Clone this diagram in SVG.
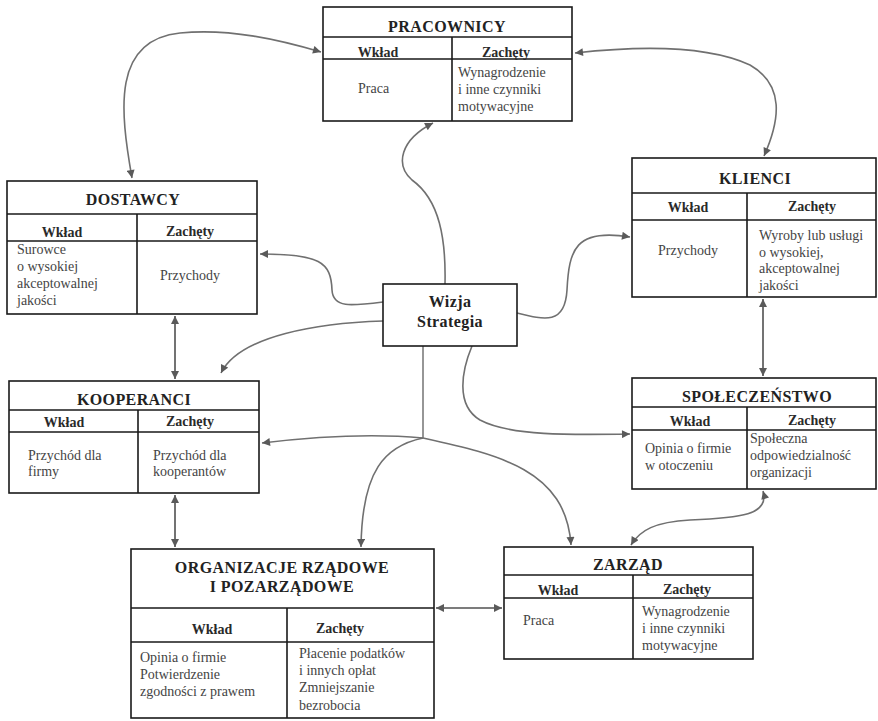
<svg xmlns="http://www.w3.org/2000/svg" width="878" height="721" viewBox="0 0 878 721">
  <style>
    .box { fill: #fff; stroke: #1a1a1a; stroke-width: 1.6; }
    .rule { stroke: #1a1a1a; stroke-width: 1.6; fill: none; }
    .title { font-family: "Liberation Serif", "Times New Roman", serif; font-weight: bold; font-size: 16px; fill: #222; text-anchor: middle; letter-spacing: 0.4px; }
    .head { font-family: "Liberation Serif", "Times New Roman", serif; font-weight: bold; font-size: 14px; fill: #2a2a2a; text-anchor: middle; }
    .body { font-family: "Liberation Serif", "Times New Roman", serif; font-size: 14px; fill: #444; }
    .mid { text-anchor: middle; }
    .wire { fill: none; stroke: #707070; stroke-width: 1.6; }
    .wire2 { fill: none; stroke: #505050; stroke-width: 1.6; }
  </style>
  <defs>
    <marker id="arrow" viewBox="0 0 10 10" refX="10" refY="5" markerWidth="9" markerHeight="8" markerUnits="userSpaceOnUse" orient="auto-start-reverse">
      <path d="M0,0 L10,5 L0,10 z" fill="#5a5a5a"/>
    </marker>
  </defs>

  <rect width="878" height="721" fill="#fff"/>

  <!-- connectors -->
  <g id="connectors">
    <path class="wire" d="M132 178 C120 110, 112 40, 180 33 C230 28, 280 40, 321 52" marker-start="url(#arrow)" marker-end="url(#arrow)"/>
    <path class="wire" d="M575 53 C620 48, 700 42, 750 65 C785 85, 780 120, 764 156" marker-start="url(#arrow)" marker-end="url(#arrow)"/>
    <path class="wire" d="M445 284 C446 240, 440 200, 412 180 C395 165, 400 140, 433 123" marker-end="url(#arrow)"/>
    <path class="wire" d="M383 302 C350 306, 333 308, 332 290 C331 262, 320 254, 260 254" marker-end="url(#arrow)"/>
    <path class="wire" d="M383 321 C320 323, 240 335, 221 373" marker-end="url(#arrow)"/>
    <path class="wire" d="M517 313 C545 320, 565 325, 567 290 C569 250, 575 228, 630 237" marker-end="url(#arrow)"/>
    <path class="wire2" d="M423 346 L423 438" style="stroke-width:1.2"/>
    <path class="wire" d="M423 438 C380 434, 320 436, 262 443" marker-end="url(#arrow)"/>
    <path class="wire" d="M423 438 C500 455, 566 470, 571 545" marker-end="url(#arrow)"/>
    <path class="wire" d="M423 438 C385 446, 362 470, 361 547" marker-end="url(#arrow)"/>
    <path class="wire" d="M472 346 C462 370, 455 405, 480 420 C510 436, 570 435, 630 434" marker-end="url(#arrow)"/>
    <path class="wire2" d="M175 316 L175 379" marker-start="url(#arrow)" marker-end="url(#arrow)"/>
    <path class="wire2" d="M175 495 L175 547" marker-start="url(#arrow)" marker-end="url(#arrow)"/>
    <path class="wire2" d="M763 299 L763 376" marker-start="url(#arrow)" marker-end="url(#arrow)"/>
    <path class="wire" d="M763 491 C770 515, 740 518, 690 520 C655 522, 640 530, 631 545" marker-start="url(#arrow)" marker-end="url(#arrow)"/>
    <path class="wire2" d="M436 608 L502 608" marker-start="url(#arrow)" marker-end="url(#arrow)"/>
  </g>

  <!-- PRACOWNICY -->
  <g id="pracownicy">
    <rect class="box" x="323" y="7" width="249" height="114"/>
    <path class="rule" d="M323 37 H572 M323 59 H572 M452 37 V121"/>
    <text class="title" x="447" y="32">PRACOWNICY</text>
    <text class="head" x="378" y="57">Wkład</text>
    <text class="head" x="506" y="57">Zachęty</text>
    <text class="body" x="358" y="93">Praca</text>
    <text class="body" x="458" y="77">Wynagrodzenie</text>
    <text class="body" x="458" y="94">i inne czynniki</text>
    <text class="body" x="458" y="111">motywacyjne</text>
  </g>

  <!-- DOSTAWCY -->
  <g id="dostawcy">
    <rect class="box" x="7" y="181" width="250" height="133"/>
    <path class="rule" d="M7 214 H257 M7 241 H257 M137 214 V314"/>
    <text class="title" x="133" y="205">DOSTAWCY</text>
    <text class="head" x="62" y="237">Wkład</text>
    <text class="head" x="190" y="236">Zachęty</text>
    <text class="body" x="17" y="254">Surowce</text>
    <text class="body" x="17" y="271">o wysokiej</text>
    <text class="body" x="17" y="288">akceptowalnej</text>
    <text class="body" x="17" y="305">jakości</text>
    <text class="body mid" x="190" y="280">Przychody</text>
  </g>

  <!-- KLIENCI -->
  <g id="klienci">
    <rect class="box" x="632" y="158" width="244" height="139"/>
    <path class="rule" d="M632 193 H876 M632 220 H876 M747 193 V297"/>
    <text class="title" x="755" y="184">KLIENCI</text>
    <text class="head" x="688" y="212">Wkład</text>
    <text class="head" x="812" y="211">Zachęty</text>
    <text class="body mid" x="688" y="255">Przychody</text>
    <text class="body" x="759" y="240">Wyroby lub usługi</text>
    <text class="body" x="759" y="257">o wysokiej,</text>
    <text class="body" x="759" y="273">akceptowalnej</text>
    <text class="body" x="759" y="290">jakości</text>
  </g>

  <!-- WIZJA / STRATEGIA -->
  <g id="wizja">
    <rect class="box" x="383" y="284" width="134" height="62"/>
    <text class="title" x="450" y="307">Wizja</text>
    <text class="title" x="450" y="327">Strategia</text>
  </g>

  <!-- KOOPERANCI -->
  <g id="kooperanci">
    <rect class="box" x="9" y="381" width="250" height="112"/>
    <path class="rule" d="M9 410 H259 M9 432 H259 M138 410 V493"/>
    <text class="title" x="134" y="405">KOOPERANCI</text>
    <text class="head" x="64" y="427">Wkład</text>
    <text class="head" x="190" y="426">Zachęty</text>
    <text class="body" x="28" y="460">Przychód dla</text>
    <text class="body" x="28" y="476">firmy</text>
    <text class="body" x="153" y="460">Przychód dla</text>
    <text class="body" x="153" y="476">kooperantów</text>
  </g>

  <!-- SPOŁECZEŃSTWO -->
  <g id="spoleczenstwo">
    <rect class="box" x="632" y="378" width="244" height="111"/>
    <path class="rule" d="M632 407 H876 M632 430 H876 M747 407 V489"/>
    <text class="title" x="757" y="402">SPOŁECZEŃSTWO</text>
    <text class="head" x="690" y="426">Wkład</text>
    <text class="head" x="812" y="425">Zachęty</text>
    <text class="body" x="645" y="453">Opinia o firmie</text>
    <text class="body" x="645" y="470">w otoczeniu</text>
    <text class="body" x="750" y="443">Społeczna</text>
    <text class="body" x="750" y="460">odpowiedzialność</text>
    <text class="body" x="750" y="477">organizacji</text>
  </g>

  <!-- ORGANIZACJE RZĄDOWE I POZARZĄDOWE -->
  <g id="organizacje">
    <rect class="box" x="131" y="549" width="303" height="169"/>
    <path class="rule" d="M131 608 H434 M131 642 H434 M287 608 V718"/>
    <text class="title" x="282" y="573">ORGANIZACJE RZĄDOWE</text>
    <text class="title" x="282" y="592">I POZARZĄDOWE</text>
    <text class="head" x="212" y="634">Wkład</text>
    <text class="head" x="340" y="633">Zachęty</text>
    <text class="body" x="140" y="662">Opinia o firmie</text>
    <text class="body" x="140" y="679">Potwierdzenie</text>
    <text class="body" x="140" y="696">zgodności z prawem</text>
    <text class="body" x="299" y="658">Płacenie podatków</text>
    <text class="body" x="299" y="675">i innych opłat</text>
    <text class="body" x="299" y="692">Zmniejszanie</text>
    <text class="body" x="299" y="710">bezrobocia</text>
  </g>

  <!-- ZARZĄD -->
  <g id="zarzad">
    <rect class="box" x="504" y="547" width="249" height="112"/>
    <path class="rule" d="M504 575 H753 M504 598 H753 M633 575 V659"/>
    <text class="title" x="628" y="570">ZARZĄD</text>
    <text class="head" x="558" y="595">Wkład</text>
    <text class="head" x="687" y="594">Zachęty</text>
    <text class="body" x="523" y="625">Praca</text>
    <text class="body" x="642" y="616">Wynagrodzenie</text>
    <text class="body" x="642" y="633">i inne czynniki</text>
    <text class="body" x="642" y="650">motywacyjne</text>
  </g>
</svg>
